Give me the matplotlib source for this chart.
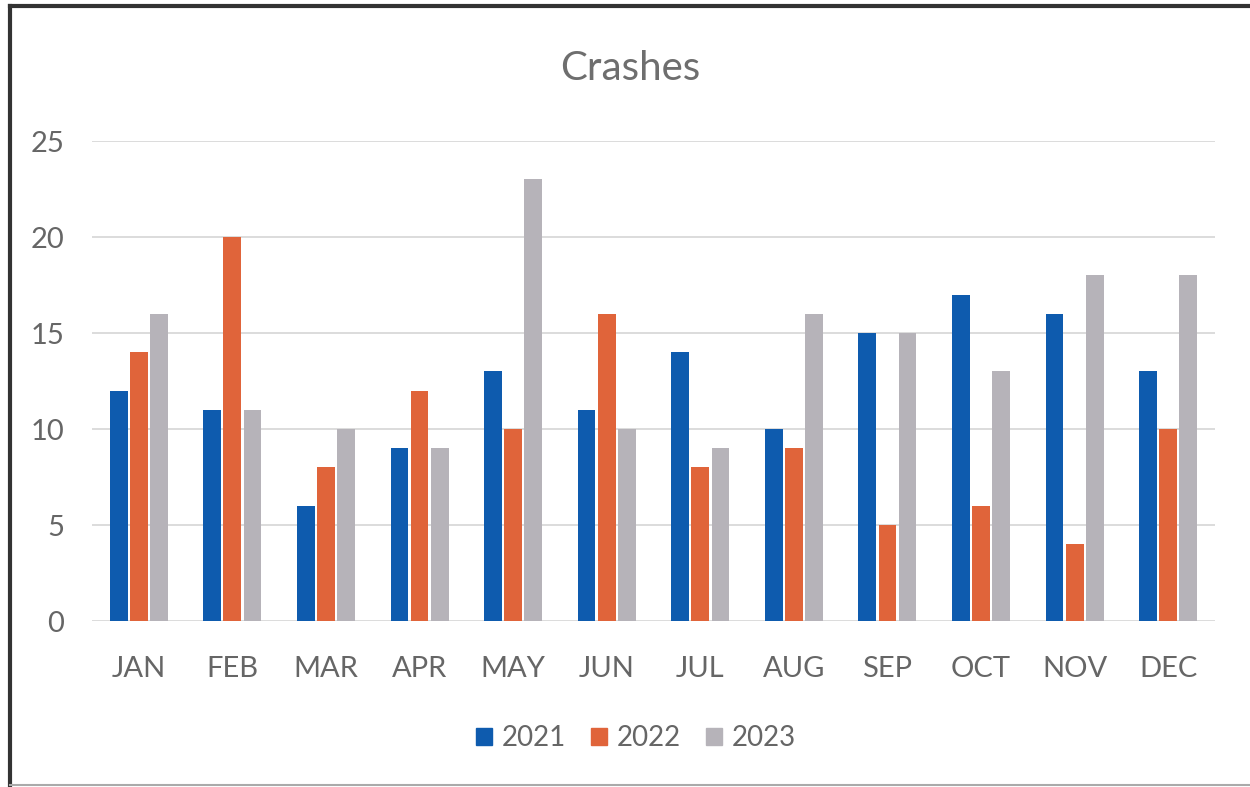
import matplotlib
matplotlib.use("Agg")
import matplotlib.pyplot as plt
import numpy as np
from matplotlib.lines import Line2D
from matplotlib.patches import Rectangle

months = ["JAN", "FEB", "MAR", "APR", "MAY", "JUN", "JUL", "AUG", "SEP", "OCT", "NOV", "DEC"]
y2021 = [12, 11, 6, 9, 13, 11, 14, 10, 15, 17, 16, 13]
y2022 = [14, 20, 8, 12, 10, 16, 8, 9, 5, 6, 4, 10]
y2023 = [16, 11, 10, 9, 23, 10, 9, 16, 15, 13, 18, 18]
series_labels = ["2021", "2022", "2023"]
colors = ["#0E5BAE", "#E0643A", "#B6B3B9"]

plt.rcParams['font.family'] = ['Lato', 'DejaVu Sans']
W, H = 1250, 787
fig = plt.figure(figsize=(W / 100, H / 100), dpi=100)
fig.patch.set_facecolor("white")

ax = fig.add_axes([92 / W, 1 - 621 / H, (1215 - 92) / W, (621 - 141) / H])
x = np.arange(len(months))
w = 0.19
off = 0.215
for i, (vals, c, lab) in enumerate(zip([y2021, y2022, y2023], colors, series_labels)):
    ax.bar(x + (i - 1) * off, vals, width=w, color=c, label=lab, zorder=3)

ax.set_xlim(-0.5, len(months) - 0.5)
ax.set_ylim(0, 25)
ax.set_yticks([0, 5, 10, 15, 20, 25])
ax.set_xticks(x)
ax.set_xticklabels(months)
ax.grid(axis="y", color="#D9D9D9", linewidth=1.3, zorder=0)
for s in ax.spines.values():
    s.set_visible(False)
ax.tick_params(axis="both", length=0, labelsize=21, labelcolor="#666666")
ax.tick_params(axis="x", pad=25)
ax.tick_params(axis="y", pad=20)

fig.text(630 / W, 1 - 68 / H, "Crashes", ha="center", va="center", fontsize=29, color="#6E6E6E")

handles = [Rectangle((0, 0), 1, 1, color=c) for c in colors]
fig.legend(handles, series_labels, loc="center", bbox_to_anchor=(636 / W, 1 - 738 / H),
           ncol=3, frameon=False, fontsize=20, labelcolor="#666666",
           handlelength=0.58, handleheight=0.58, handletextpad=0.35, columnspacing=0.9)

# outer frame (scan border)
fig.add_artist(Line2D([10 / W, 10 / W], [0, 1 - 6 / H], transform=fig.transFigure, color="#333333", linewidth=3))
fig.add_artist(Line2D([10 / W, 1], [1 - 6 / H, 1 - 6 / H], transform=fig.transFigure, color="#333333", linewidth=3))
fig.add_artist(Line2D([10 / W, 1], [1 - 785 / H, 1 - 785 / H], transform=fig.transFigure, color="#AAAAAA", linewidth=1.5))

fig.savefig("out.png", dpi=100, facecolor="white")
